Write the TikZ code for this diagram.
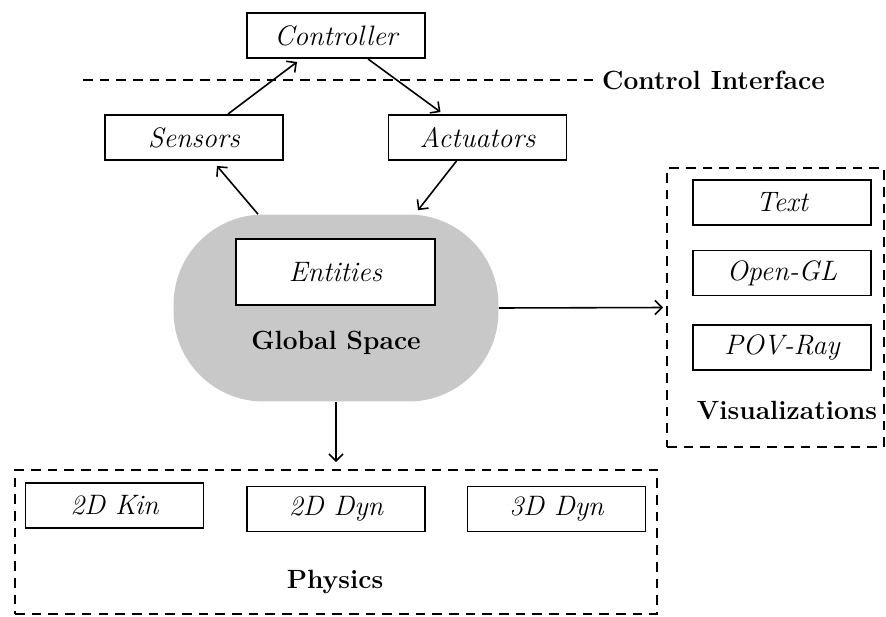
\documentclass[tikz,border=0pt]{standalone}
\usepackage{tikz}
\usetikzlibrary{arrows, arrows.meta, positioning, calc}
\definecolor{spacegray}{RGB}{200,200,200}

\begin{document}
\begin{tikzpicture}[x=0.02cm,y=-0.02cm,
  box/.style={draw,fill=white,line width=1.1pt,minimum width=3.56cm,minimum height=0.9cm,inner sep=0pt,font=\fontsize{16}{19}\selectfont\itshape},
  ttl/.style={font=\fontsize{15}{18}\selectfont\bfseries},
  frame/.style={draw,line width=1.1pt,dash pattern=on 5.5pt off 4pt},
  link/.style={-{Straight Barb[length=4pt,width=8pt]},line width=0.9pt}]
\useasboundingbox (0,0) rectangle (886,616);

% Controller and the interface line
\node[box] (ctrl) at (336,35.5) {Controller};
\node[ttl,anchor=west] (ci) at (596,80) {Control Interface};
\draw[frame] (83,80) -- (ci.west);

% Sensors and actuators
\node[box] (sens) at (194,137.5) {Sensors};
\node[box] (act) at (477.5,137.5) {Actuators};

% Global space with entities
\node[fill=spacegray,rounded corners=1.8cm,minimum width=6.5cm,minimum height=3.74cm] (space) at (336,308) {};
\node[box,minimum width=3.98cm,minimum height=1.32cm] (ent) at (335.5,272) {Entities};
\node[ttl] (gs) at (336,343) {Global Space};

% Visualizations
\node[frame,minimum width=4.34cm,minimum height=5.58cm] (vis) at (775.5,307.5) {};
\node[box] (txt) at (782,202.5) {Text};
\node[box] (ogl) at (782,273) {Open-GL};
\node[box] (pov) at (782,347.5) {POV-Ray};
\node[ttl] (vl) at (787,410) {Visualizations};

% Physics
\node[frame,minimum width=12.84cm,minimum height=2.88cm] (phys) at (336,542) {};
\node[box] (kin) at (114.5,505.5) {2D Kin};
\node[box] (dyn2) at (336,509) {2D Dyn};
\node[box] (dyn3) at (556.5,509) {3D Dyn};
\node[ttl] (pl) at (335,582) {Physics};

% Arrows
\draw[link] ($(sens.north)+(34,0)$) -- ($(ctrl.south)+(-39,3)$);
\draw[link] ($(ctrl.south)+(32,0)$) -- ($(act.north)+(-37,-2)$);
\draw[link] ($(space.north)+(-78,0)$) -- ($(sens.south)+(23,5)$);
\draw[link] ($(act.south)+(-21,0)$) -- ($(space.north)+(82,-4)$);
\draw[link] (space.east) -- ($(vis.west)+(-3,0)$);
\draw[link] (space.south) -- ($(phys.north)+(0,-7)$);
\end{tikzpicture}
\end{document}
